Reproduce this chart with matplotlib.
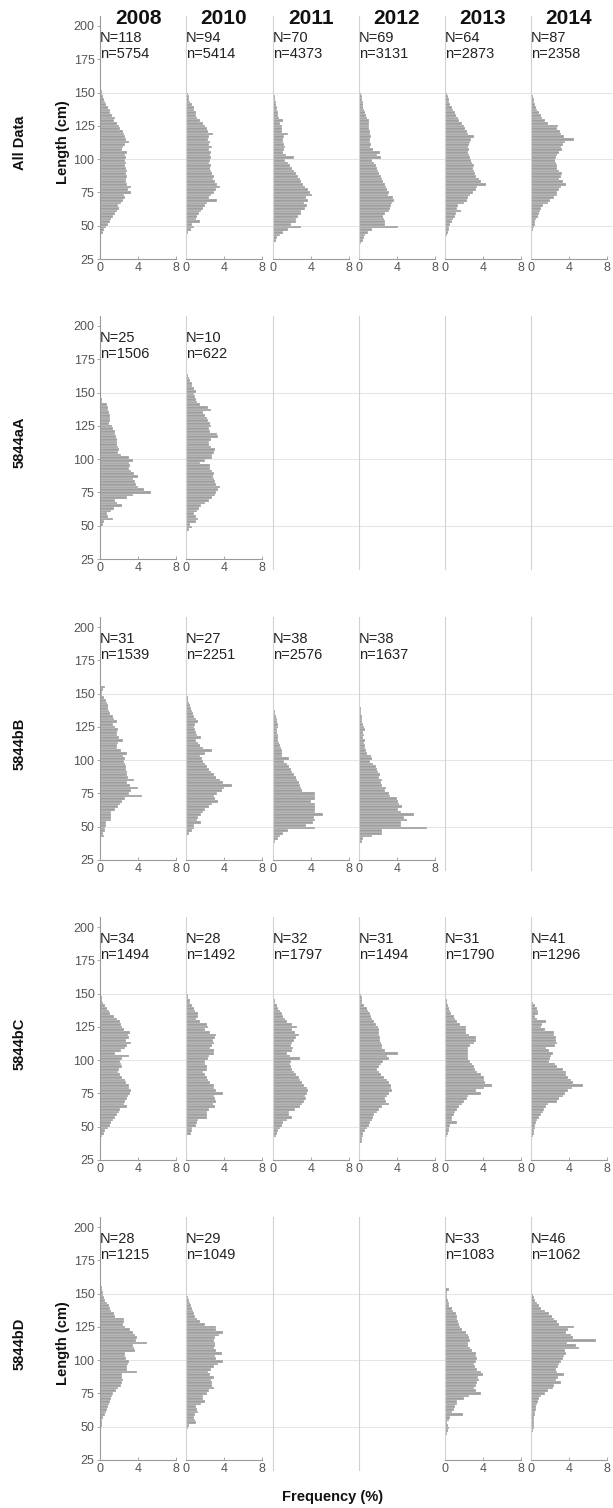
import matplotlib
matplotlib.use('Agg')
import matplotlib.pyplot as plt
from matplotlib.lines import Line2D

plt.rcParams['font.family'] = ['Liberation Sans', 'DejaVu Sans']

years = ['2008', '2010', '2011', '2012', '2013', '2014']
groups = ['All Data', '5844aA', '5844bB', '5844bC', '5844bD']
bin_width = 2  # cm

# ---- fish counts (N) and measured fish (n) per panel; None = no data ----
N_all = [118, 94, 70, 69, 64, 87]
n_all = [5754, 5414, 4373, 3131, 2873, 2358]
N_aA = [25, 10, None, None, None, None]
n_aA = [1506, 622, None, None, None, None]
N_bB = [31, 27, 38, 38, None, None]
n_bB = [1539, 2251, 2576, 1637, None, None]
N_bC = [34, 28, 32, 31, 31, 41]
n_bC = [1494, 1492, 1797, 1494, 1790, 1296]
N_bD = [28, 29, None, None, 33, 46]
n_bD = [1215, 1049, None, None, 1083, 1062]

# ---- length-frequency (%) in 2 cm bins; first bin lower edge given by *_start ----
all_2008_start = 42
all_2008 = [0.1, 0.3, 0.4, 0.6, 0.8, 1.0, 1.2, 1.4, 1.6, 1.8, 2.0, 1.9, 2.2, 2.4, 2.6, 2.5, 3.3, 2.9, 3.3, 2.8,
            2.7, 2.7, 2.8, 2.7, 2.8, 2.7, 2.6, 2.7, 2.6, 2.7, 2.6, 2.8, 2.3, 2.4, 2.6, 3.0, 2.7, 2.6, 2.5, 2.4,
            2.1, 2.0, 1.8, 1.5, 1.6, 1.3, 1.1, 1.0, 0.8, 0.6, 0.5, 0.4, 0.3, 0.2, 0.2, 0.1, 0.1, 0.1]
all_2010_start = 44
all_2010 = [0.2, 0.5, 0.8, 0.6, 1.5, 1.0, 1.2, 1.4, 1.6, 1.8, 2.0, 2.2, 3.3, 2.4, 2.6, 2.9, 3.2, 3.6, 3.3, 3.0,
            2.8, 2.9, 2.7, 2.6, 2.5, 2.6, 2.4, 2.5, 2.6, 2.5, 2.6, 2.4, 2.7, 2.4, 2.5, 2.3, 2.4, 2.8, 2.3, 2.2,
            2.0, 1.8, 1.5, 1.2, 1.1, 1.0, 0.8, 0.8, 0.6, 0.4, 0.3, 0.3, 0.2, 0.1, 0.1, 0.1]
all_2011_start = 38
all_2011 = [0.3, 0.5, 0.8, 1.1, 1.6, 3.0, 1.9, 2.5, 2.4, 2.7, 3.0, 3.0, 3.4, 3.6, 3.3, 3.75, 3.5, 4.1, 3.9, 3.7,
            3.4, 3.2, 3.0, 2.9, 2.7, 2.4, 2.2, 2.0, 1.8, 1.6, 1.3, 2.2, 1.4, 1.1, 1.2, 1.3, 1.2, 1.1, 1.1, 1.2,
            1.65, 1.0, 0.95, 1.0, 0.8, 1.1, 0.7, 0.6, 0.6, 0.5, 0.4, 0.35, 0.3, 0.25, 0.2, 0.15, 0.1, 0.1]
all_2012_start = 36
all_2012 = [0.2, 0.4, 0.6, 0.7, 1.0, 1.4, 4.1, 2.8, 2.8, 2.7, 2.6, 2.8, 3.2, 3.3, 3.4, 3.5, 3.7, 3.6, 3.1, 3.2,
            3.0, 2.9, 2.8, 2.6, 2.5, 2.3, 2.1, 2.0, 1.9, 1.8, 1.6, 1.4, 2.3, 1.9, 2.2, 1.5, 1.2, 1.3, 1.2, 1.2,
            1.3, 1.2, 1.2, 1.1, 1.05, 1.1, 1.05, 0.9, 0.8, 0.7, 0.6, 0.5, 0.45, 0.4, 0.35, 0.3, 0.2, 0.15, 0.1]
all_2013_start = 40
all_2013 = [0.1, 0.2, 0.3, 0.4, 0.5, 0.6, 0.8, 0.9, 1.1, 1.2, 1.7, 1.3, 1.4, 2.0, 2.3, 2.5, 2.7, 3.0, 3.3, 3.4,
            4.4, 3.8, 3.6, 3.3, 3.2, 3.1, 3.0, 3.1, 2.9, 2.8, 2.7, 2.6, 2.5, 2.6, 2.5, 2.6, 2.7, 2.8, 3.1, 2.4,
            2.3, 2.1, 2.0, 1.8, 1.5, 1.4, 1.2, 1.1, 0.9, 0.8, 0.6, 0.5, 0.4, 0.3, 0.2, 0.1, 0.1]
all_2014_start = 40
all_2014 = [0.05, 0.1, 0.15, 0.2, 0.3, 0.4, 0.5, 0.6, 0.8, 0.9, 1.0, 1.05, 1.3, 1.8, 2.0, 2.4, 2.8, 2.8, 3.0, 3.2,
            3.7, 3.4, 3.0, 3.2, 3.3, 3.0, 2.8, 2.8, 2.7, 2.6, 2.7, 2.8, 3.0, 3.3, 3.2, 3.4, 3.6, 4.6, 3.5, 3.2,
            3.1, 2.8, 2.9, 1.8, 1.5, 1.2, 1.05, 0.9, 0.7, 0.6, 0.45, 0.35, 0.3, 0.2, 0.15, 0.1]

aA_2008_start = 50
aA_2008 = [0.35, 0.4, 1.4, 0.8, 0.7, 1.2, 1.5, 2.3, 1.8, 1.6, 2.8, 3.5, 5.4, 4.6, 4.0, 3.8, 3.7, 3.5, 4.0, 3.6,
           3.3, 3.1, 3.2, 3.0, 3.5, 3.0, 2.2, 1.9, 2.0, 1.9, 1.8, 1.8, 1.75, 1.7, 1.6, 1.6, 1.4, 1.3, 0.9, 1.0,
           1.0, 1.0, 0.9, 0.8, 0.8, 0.7, 0.2, 0.2, 0.1, 0.1, 0.15, 0.15, 0.15, 0.05, 0.1, 0.05, 0.05]
aA_2010_start = 46
aA_2010 = [0.3, 0.6, 0.4, 1.0, 1.3, 1.0, 0.8, 1.2, 1.4, 1.6, 2.0, 2.4, 2.7, 3.0, 3.2, 3.4, 3.6, 3.2, 3.0, 2.9,
           2.8, 2.9, 2.7, 2.5, 2.5, 1.5, 2.0, 2.7, 2.7, 2.9, 3.1, 2.6, 2.4, 2.4, 2.6, 3.4, 3.3, 2.5, 2.4, 2.6,
           2.5, 2.3, 2.2, 2.0, 1.8, 2.6, 2.3, 1.5, 1.2, 1.1, 0.9, 0.8, 1.0, 0.8, 0.6, 0.6, 0.4, 0.3, 0.2, 0.1,
           0.1, 0.1]

bB_2008_start = 42
bB_2008 = [0.4, 0.3, 0.5, 0.5, 0.6, 0.6, 1.2, 1.2, 1.2, 1.2, 1.6, 1.9, 2.1, 2.3, 2.6, 4.4, 3.0, 3.3, 4.0, 3.2,
           2.8, 3.6, 2.9, 2.8, 2.8, 2.7, 2.7, 2.6, 2.5, 2.6, 2.4, 2.8, 2.2, 1.75, 1.8, 1.9, 2.4, 2.0, 1.75, 1.8,
           1.9, 1.6, 1.4, 1.75, 1.5, 1.4, 1.1, 0.9, 0.8, 0.8, 0.7, 0.6, 0.4, 0.2, 0.2, 0.3, 0.5, 0.1]
bB_2010_start = 42
bB_2010 = [0.15, 0.3, 0.6, 0.8, 0.8, 1.6, 1.2, 1.3, 1.6, 1.8, 2.0, 2.4, 2.7, 3.4, 3.0, 2.9, 3.3, 3.75, 4.0, 4.8,
           3.9, 3.6, 3.2, 2.9, 2.6, 2.4, 2.2, 2.0, 1.8, 1.7, 1.5, 2.0, 2.7, 1.8, 1.5, 1.3, 1.1, 1.6, 1.2, 1.1,
           0.9, 0.8, 0.9, 1.3, 1.0, 0.8, 0.7, 0.6, 0.5, 0.4, 0.3, 0.25, 0.2, 0.15, 0.15]
bB_2011_start = 38
bB_2011 = [0.25, 0.6, 0.8, 1.1, 1.6, 4.5, 3.5, 4.2, 4.4, 4.3, 5.3, 4.4, 4.4, 4.5, 4.5, 4.0, 4.5, 4.4, 4.4, 3.1,
           3.0, 2.9, 2.8, 2.6, 2.5, 2.2, 2.0, 1.9, 1.7, 1.5, 1.2, 1.7, 1.0, 1.0, 1.0, 0.9, 0.8, 0.7, 0.6, 0.6,
           0.6, 0.5, 0.45, 0.6, 0.6, 0.4, 0.4, 0.3, 0.25, 0.2, 0.15, 0.15, 0.1, 0.1, 0.1]
bB_2012_start = 36
bB_2012 = [0.1, 0.3, 0.5, 1.4, 2.5, 2.4, 7.2, 4.4, 4.5, 5.1, 4.8, 5.8, 4.5, 4.1, 4.6, 4.2, 4.1, 4.0, 3.3, 3.2,
           2.8, 2.9, 2.5, 2.3, 2.4, 2.1, 2.2, 2.0, 1.9, 1.8, 1.5, 1.2, 1.4, 1.3, 0.9, 0.8, 0.7, 0.7, 0.6, 0.7,
           0.5, 0.6, 0.5, 0.7, 0.6, 0.4, 0.35, 0.3, 0.3, 0.25, 0.2, 0.2, 0.15, 0.1, 0.1, 0.1, 0.1, 0.05]

bC_2008_start = 42
bC_2008 = [0.2, 0.4, 0.5, 0.8, 1.05, 1.2, 1.4, 1.6, 1.75, 2.0, 2.1, 2.8, 2.5, 2.6, 2.8, 2.9, 3.2, 3.3, 3.1, 3.0,
           2.7, 2.6, 2.3, 2.1, 1.9, 2.0, 2.3, 2.2, 2.1, 2.3, 3.0, 1.6, 2.2, 2.6, 2.8, 3.3, 2.7, 3.0, 2.9, 3.2,
           2.5, 2.3, 2.2, 2.1, 1.75, 1.5, 1.05, 0.9, 0.7, 0.5, 0.35, 0.25, 0.2, 0.1, 0.1]
bC_2010_start = 44
bC_2010 = [0.5, 0.6, 0.6, 1.1, 1.2, 1.3, 2.2, 2.2, 2.2, 2.4, 3.0, 2.8, 3.2, 3.0, 2.9, 3.9, 3.2, 2.9, 2.9, 2.5,
           2.35, 2.2, 2.0, 1.8, 2.2, 2.2, 2.0, 2.0, 2.35, 2.4, 2.9, 2.9, 2.5, 2.7, 2.9, 2.8, 3.0, 3.2, 2.5, 2.0,
           2.3, 2.2, 1.5, 1.1, 1.3, 1.3, 0.9, 0.8, 0.6, 0.4, 0.4, 0.25, 0.2]
bC_2011_start = 38
bC_2011 = [0.1, 0.15, 0.3, 0.45, 0.6, 0.8, 1.0, 1.1, 1.5, 2.0, 1.7, 1.7, 2.3, 2.9, 3.1, 3.3, 3.5, 3.4, 3.6, 3.7,
           3.6, 3.3, 3.1, 2.9, 2.75, 2.4, 2.2, 2.0, 1.9, 1.8, 1.9, 2.9, 1.8, 1.5, 2.0, 2.1, 1.9, 2.0, 2.2, 2.4,
           2.75, 2.3, 2.0, 2.6, 2.0, 1.5, 1.3, 1.1, 0.95, 0.8, 0.6, 0.4, 0.25, 0.2, 0.1, 0.1]
bC_2012_start = 38
bC_2012 = [0.35, 0.35, 0.45, 0.5, 0.7, 0.9, 1.05, 1.2, 1.4, 1.5, 1.6, 1.9, 2.1, 2.5, 3.2, 2.9, 2.8, 3.0, 3.2, 3.5,
           3.4, 3.35, 3.2, 3.0, 2.7, 2.3, 2.1, 1.95, 2.1, 2.3, 2.6, 3.2, 3.0, 4.1, 2.8, 2.5, 2.4, 2.3, 2.2, 2.2,
           2.1, 2.1, 2.1, 2.0, 1.8, 1.6, 1.4, 1.3, 1.2, 1.0, 0.9, 0.6, 0.35, 0.35, 0.35, 0.2, 0.1]
bC_2013_start = 42
bC_2013 = [0.25, 0.3, 0.4, 0.5, 0.6, 1.3, 0.8, 0.8, 1.0, 1.1, 1.3, 1.5, 1.8, 2.0, 2.3, 2.5, 3.8, 3.3, 4.1, 5.0,
           4.2, 4.1, 4.1, 3.8, 3.4, 3.2, 3.1, 2.9, 2.7, 2.5, 2.4, 2.5, 2.5, 2.5, 2.7, 3.1, 3.3, 3.25, 2.6, 2.2,
           2.2, 2.2, 1.6, 1.3, 1.1, 0.95, 0.7, 0.6, 0.4, 0.35, 0.25, 0.2, 0.15, 0.1]
bC_2014_start = 40
bC_2014 = [0.1, 0.2, 0.3, 0.35, 0.45, 0.5, 0.6, 0.7, 0.9, 1.05, 1.3, 1.4, 1.6, 1.8, 2.8, 3.0, 3.4, 3.6, 3.9, 4.3,
           5.5, 4.4, 4.2, 3.9, 3.7, 3.7, 3.4, 2.8, 2.6, 1.95, 2.0, 2.1, 2.3, 1.9, 1.6, 2.6, 2.8, 2.7, 2.65, 2.5,
           2.5, 1.5, 1.05, 1.2, 1.6, 0.7, 0.5, 0.8, 0.8, 0.7, 0.4, 0.2, 0.15, 0.1, 0.1]

bD_2008_start = 48
bD_2008 = [0.1, 0.2, 0.2, 0.2, 0.3, 0.5, 0.6, 0.7, 0.8, 0.9, 1.1, 1.2, 1.3, 1.4, 1.7, 1.9, 2.2, 2.3, 2.4, 2.3,
           2.3, 3.9, 2.8, 2.8, 2.9, 3.0, 2.7, 2.6, 2.6, 3.7, 3.6, 3.5, 4.9, 3.8, 3.9, 3.7, 3.5, 3.2, 2.6, 2.4,
           2.5, 2.5, 1.6, 1.5, 1.2, 1.0, 0.9, 0.7, 0.5, 0.4, 0.35, 0.3, 0.25, 0.2, 0.1, 0.1]
bD_2010_start = 48
bD_2010 = [0.25, 0.3, 1.1, 0.9, 0.8, 0.9, 1.3, 1.2, 1.1, 1.6, 2.0, 1.8, 1.8, 2.2, 2.4, 2.9, 2.7, 2.7, 2.6, 2.9,
           2.5, 2.35, 2.6, 2.9, 3.4, 3.9, 3.2, 3.0, 3.75, 3.2, 2.9, 3.0, 3.05, 2.9, 3.0, 3.5, 3.9, 3.2, 3.2, 2.0,
           1.5, 1.2, 0.95, 0.8, 0.7, 0.6, 0.5, 0.4, 0.3, 0.25]
bD_2013_start = 38
bD_2013 = [0.05, 0.1, 0.15, 0.25, 0.3, 0.4, 0.35, 0.25, 0.4, 0.6, 1.95, 0.8, 0.95, 1.1, 1.3, 1.3, 2.0, 2.6, 3.8, 3.3,
           3.1, 3.3, 3.4, 3.6, 3.5, 4.0, 3.8, 3.4, 3.2, 3.1, 3.3, 3.4, 3.3, 3.25, 2.9, 2.7, 2.5, 2.4, 2.7, 2.6,
           2.4, 2.2, 1.8, 1.6, 1.5, 1.4, 1.3, 1.3, 1.2, 0.9, 0.8, 0.5, 0.4, 0.3, 0.25, 0.25, 0.2, 0.4, 0.1, 0.05,
           0.05, 0.1]
bD_2014_start = 40
bD_2014 = [0.1, 0.1, 0.15, 0.2, 0.35, 0.35, 0.35, 0.35, 0.35, 0.4, 0.5, 0.55, 0.6, 0.7, 0.8, 0.9, 1.05, 1.5, 1.8, 2.3,
           2.5, 3.2, 2.65, 2.9, 3.5, 2.8, 2.65, 2.9, 3.0, 3.2, 3.4, 3.5, 3.7, 3.6, 5.1, 4.8, 3.8, 6.9, 4.5, 4.2,
           3.7, 3.9, 4.6, 3.0, 2.8, 2.5, 2.2, 1.95, 1.5, 1.05, 0.9, 0.7, 0.5, 0.35, 0.2, 0.15, 0.1]

# panel lookup built from the named lists above
hist_data = {
    ('All Data', '2008'): (all_2008_start, all_2008), ('All Data', '2010'): (all_2010_start, all_2010),
    ('All Data', '2011'): (all_2011_start, all_2011), ('All Data', '2012'): (all_2012_start, all_2012),
    ('All Data', '2013'): (all_2013_start, all_2013), ('All Data', '2014'): (all_2014_start, all_2014),
    ('5844aA', '2008'): (aA_2008_start, aA_2008), ('5844aA', '2010'): (aA_2010_start, aA_2010),
    ('5844bB', '2008'): (bB_2008_start, bB_2008), ('5844bB', '2010'): (bB_2010_start, bB_2010),
    ('5844bB', '2011'): (bB_2011_start, bB_2011), ('5844bB', '2012'): (bB_2012_start, bB_2012),
    ('5844bC', '2008'): (bC_2008_start, bC_2008), ('5844bC', '2010'): (bC_2010_start, bC_2010),
    ('5844bC', '2011'): (bC_2011_start, bC_2011), ('5844bC', '2012'): (bC_2012_start, bC_2012),
    ('5844bC', '2013'): (bC_2013_start, bC_2013), ('5844bC', '2014'): (bC_2014_start, bC_2014),
    ('5844bD', '2008'): (bD_2008_start, bD_2008), ('5844bD', '2010'): (bD_2010_start, bD_2010),
    ('5844bD', '2013'): (bD_2013_start, bD_2013), ('5844bD', '2014'): (bD_2014_start, bD_2014),
}
counts = {'All Data': (N_all, n_all), '5844aA': (N_aA, n_aA), '5844bB': (N_bB, n_bB),
          '5844bC': (N_bC, n_bC), '5844bD': (N_bD, n_bD)}

# ---------------- layout (pixels) ----------------
W, H = 613, 1508
fig = plt.figure(figsize=(W / 100, H / 100), dpi=100)
col_x0 = [100, 186, 272.7, 358.7, 444.7, 530.7]
row_y200 = [26, 326, 627, 927, 1227]
panel_w = 76
ppc = 233 / 175.0
ylo, yhi = 25, 207.5

bar_col = '#9e9e9e'
spine_dark = '#9a9a9a'
spine_light = '#d2d2d2'
grid_col = '#e4e4e4'
tick_col = '#555555'


def rect(x0, y200, width):
    bottom_px = y200 + (200 - ylo) * ppc
    top_px = y200 - (yhi - 200) * ppc
    return [x0 / W, 1 - bottom_px / H, width / W, (bottom_px - top_px) / H]


for r, g in enumerate(groups):
    y200 = row_y200[r]
    # background gridlines spanning the row
    bg = fig.add_axes(rect(col_x0[0], y200, W - col_x0[0]), zorder=0)
    bg.set_xlim(0, 1)
    bg.set_ylim(ylo, yhi)
    for yv in (50, 100, 150):
        bg.axhline(yv, color=grid_col, lw=0.7, zorder=0)
    bg.axis('off')

    Ns, ns = counts[g]
    for c, yr in enumerate(years):
        ax = fig.add_axes(rect(col_x0[c], y200, panel_w), zorder=2)
        ax.patch.set_alpha(0)
        ax.set_xlim(0, 8)
        ax.set_ylim(ylo, yhi)
        for s in ('top', 'right'):
            ax.spines[s].set_visible(False)
        key = (g, yr)
        if key not in hist_data:
            ax.spines['left'].set_visible(False)
            ax.spines['bottom'].set_visible(False)
            ax.set_xticks([])
            ax.set_yticks([])
            ax.add_line(Line2D([0, 0], [17.5, yhi], color=spine_light, lw=0.8, clip_on=False))
            continue
        start, vals = hist_data[key]
        edges = [start + bin_width * i for i in range(len(vals))]
        ax.barh(edges, vals, height=bin_width, align='edge', color=bar_col,
                edgecolor='white', linewidth=0.18, zorder=2)
        ax.spines['left'].set_bounds(ylo, yhi)
        ax.spines['left'].set_color(spine_dark if c == 0 else spine_light)
        ax.spines['left'].set_linewidth(0.8)
        ax.spines['bottom'].set_bounds(0, 8)
        ax.spines['bottom'].set_color(spine_dark)
        ax.spines['bottom'].set_linewidth(0.8)
        ax.set_xticks([0, 4, 8])
        ax.set_xticklabels(['0', '4', '8'])
        ax.tick_params(axis='x', direction='in', length=2, width=0.6, color=spine_dark,
                       labelsize=9, labelcolor=tick_col, pad=2)
        if c == 0:
            ax.set_yticks(list(range(25, 201, 25)))
            ax.tick_params(axis='y', direction='out', length=2.5, width=0.6, color=spine_dark,
                           labelsize=9, labelcolor=tick_col, pad=1.5)
        else:
            ax.set_yticks([])
        ax.text(0.02, 188, f'N={Ns[c]}', fontsize=10.5, color='#222222', va='baseline', ha='left', zorder=5)
        ax.text(0.02, 176, f'n={ns[c]}', fontsize=10.5, color='#222222', va='baseline', ha='left', zorder=5)

    # row labels
    yc = 1 - (y200 + 116.5) / H
    fig.text(20 / W, yc, g, rotation=90, ha='center', va='center', fontsize=10.5,
             fontweight='bold', color='#111111')
    if r in (0, len(groups) - 1):
        fig.text(63 / W, yc, 'Length (cm)', rotation=90, ha='center', va='center',
                 fontsize=10.5, fontweight='bold', color='#111111')

# year titles
for c, yr in enumerate(years):
    fig.text((col_x0[c] + panel_w / 2) / W, 1 - 18 / H, yr, ha='center', va='center',
             fontsize=15, fontweight='bold', color='#111111')

fig.text(333 / W, 1 - 1497 / H, 'Frequency (%)', ha='center', va='center',
         fontsize=10.5, fontweight='bold', color='#111111')

fig.savefig('out.png', dpi=100)
